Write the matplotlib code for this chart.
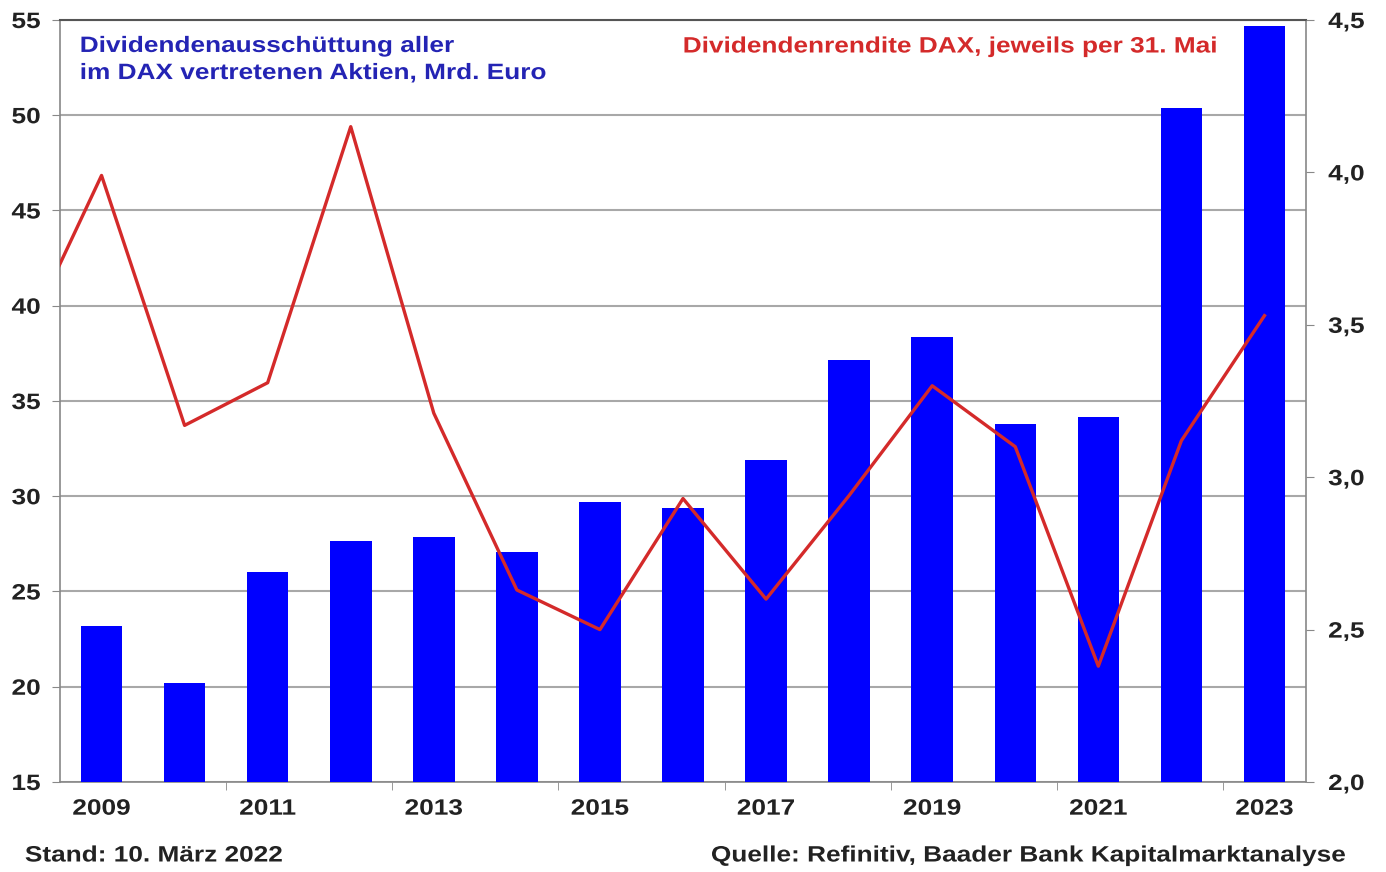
import matplotlib.pyplot as plt
from matplotlib import patheffects
from matplotlib.transforms import Affine2D
from matplotlib.ticker import FixedLocator, FuncFormatter

plt.rcParams['font.family'] = ['Liberation Sans', 'DejaVu Sans']

# Dividendenausschüttung, Mrd. Euro
years = [2009, 2010, 2011, 2012, 2013, 2014, 2015, 2016, 2017, 2018, 2019, 2020, 2021, 2022, 2023]
payout = [23.2, 20.2, 26.0, 27.65, 27.85, 27.05, 29.7, 29.4, 31.9, 37.15, 38.35, 33.8, 34.15, 50.4, 54.7]

# Dividendenrendite DAX (line starts before the visible range)
yield_years = [2008, 2009, 2010, 2011, 2012, 2013, 2014, 2015, 2016, 2017, 2018, 2019, 2020, 2021, 2022, 2023]
div_yield = [3.41, 3.99, 3.17, 3.31, 4.15, 3.21, 2.63, 2.50, 2.93, 2.60, 2.94, 3.30, 3.10, 2.38, 3.12, 3.53]

label_years = [2009, 2011, 2013, 2015, 2017, 2019, 2021, 2023]


# the original lettering is a bit wider than Arial, so stretch text horizontally
class Stretch(patheffects.AbstractPathEffect):
    def __init__(self, sx=1.18, anchor='center'):
        super().__init__()
        self.sx = sx
        self.anchor = anchor

    def draw_path(self, renderer, gc, tpath, affine, rgbFace=None):
        bb = tpath.get_extents(affine)
        x0 = {'left': bb.x0, 'center': (bb.x0 + bb.x1) / 2, 'right': bb.x1}[self.anchor]
        t = affine + Affine2D().translate(-x0, 0).scale(self.sx, 1).translate(x0, 0)
        renderer.draw_path(gc, tpath, t, rgbFace)


def style_labels(labels, anchor):
    for lab in labels:
        lab.set_fontsize(16)
        lab.set_fontweight('bold')
        lab.set_color('#222222')
        lab.set_path_effects([Stretch(anchor=anchor)])


fig = plt.figure(figsize=(13.86, 8.72), dpi=100)
ax = fig.add_axes([60 / 1386, 90 / 872, 1246 / 1386, 762 / 872])

ax.bar(years, payout, width=0.5, color='#0000ff', zorder=3)
ax.set_xlim(2008.5, 2023.5)
ax.set_ylim(15, 55)
ax.set_yticks(range(15, 60, 5))
ax.yaxis.grid(True, color='#a8a8a8', linewidth=1.5, zorder=0)
ax.set_axisbelow(True)

ax.set_xticks(label_years)
ax.xaxis.set_minor_locator(FixedLocator([y + 0.5 for y in range(2010, 2023, 2)]))
ax.tick_params(axis='x', which='major', length=0, pad=12)
ax.tick_params(axis='x', which='minor', length=6, color='#888888', direction='out')
ax.tick_params(axis='y', length=6, color='#888888', pad=8)
style_labels(ax.get_xticklabels(), 'center')
style_labels(ax.get_yticklabels(), 'right')

for s in ['left', 'right', 'bottom']:
    ax.spines[s].set_color('#888888')
    ax.spines[s].set_linewidth(1.2)
ax.spines['top'].set_color('#555555')
ax.spines['top'].set_linewidth(1.5)

ax2 = ax.twinx()
ax2.plot(yield_years, div_yield, color='#d42a2a', linewidth=2.4, zorder=4)
ax2.set_ylim(2.0, 4.5)
ax2.set_yticks([2.0, 2.5, 3.0, 3.5, 4.0, 4.5])
ax2.yaxis.set_major_formatter(FuncFormatter(lambda v, p: f'{v:.1f}'.replace('.', ',')))
ax2.tick_params(axis='y', length=6, color='#888888', pad=10)
style_labels(ax2.get_yticklabels(), 'left')
for s in ax2.spines.values():
    s.set_visible(False)
ax.set_xlim(2008.5, 2023.5)

fig.text(80 / 1386, 1 - 60 / 872, 'Dividendenausschüttung aller\nim DAX vertretenen Aktien, Mrd. Euro',
         color='#2424b4', fontsize=16, fontweight='bold', va='center', linespacing=1.38,
         path_effects=[Stretch(anchor='left')])
fig.text(683 / 1386, 1 - 47 / 872, 'Dividendenrendite DAX, jeweils per 31. Mai',
         color='#d42a2a', fontsize=16, fontweight='bold', va='center',
         path_effects=[Stretch(anchor='left')])

fig.text(25 / 1386, 1 - 856 / 872, 'Stand: 10. März 2022', fontsize=16, fontweight='bold',
         color='#222222', va='center', path_effects=[Stretch(anchor='left')])
fig.text(1345 / 1386, 1 - 856 / 872, 'Quelle: Refinitiv, Baader Bank Kapitalmarktanalyse',
         fontsize=16, fontweight='bold', color='#222222', va='center', ha='right',
         path_effects=[Stretch(anchor='right')])

plt.savefig('out.png', dpi=100)
